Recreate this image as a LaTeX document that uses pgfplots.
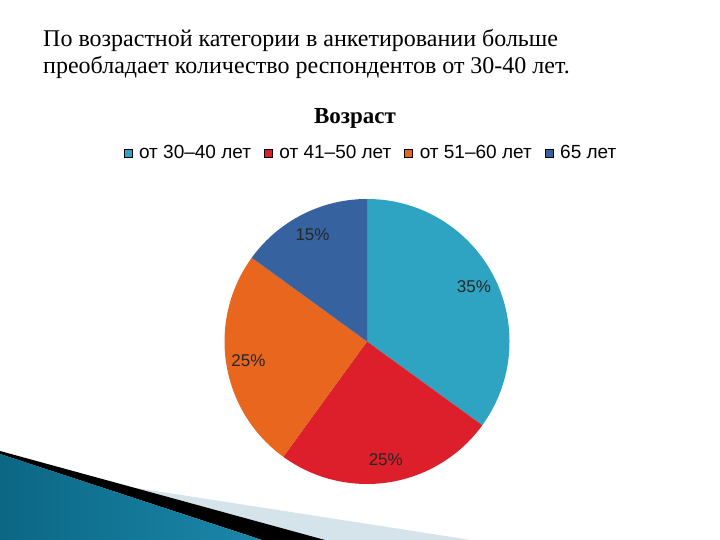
\documentclass[border=0pt]{standalone}
\usepackage{fontspec}
\setmainfont{Liberation Serif}
\newfontfamily\sansf{Liberation Sans}
\usepackage{pgfplots}
\usepackage{pgfplotstable}
\pgfplotsset{compat=1.18}
\definecolor{c0}{HTML}{2FA3C2}
\definecolor{c1}{HTML}{DC1F2B}
\definecolor{c2}{HTML}{E8661E}
\definecolor{c3}{HTML}{36629F}
\definecolor{tealdark}{HTML}{0B6784}
\definecolor{teallight}{HTML}{4DB4D6}
\definecolor{tealmid}{HTML}{1C87AA}
\definecolor{palestripe}{HTML}{D5E3EB}
\newcommand\lblfont{\sansf\fontsize{17}{17}\selectfont}

\pgfplotstableread{
age value
30-40 35
41-50 25
51-60 25
65 15
}\agetable

\begin{document}
\begin{tikzpicture}
\path[use as bounding box] (0,0) rectangle (720pt,540pt);
% decoration bottom left
\fill[palestripe] (130pt,53pt) -- (471pt,0pt) -- (325pt,0pt) -- cycle;
\fill[black] (0pt,89pt) -- (325pt,0pt) -- (262pt,0pt) -- (0pt,86pt) -- cycle;
\shade[left color=tealdark, middle color=teallight, right color=tealmid] (0pt,86pt) -- (262pt,0pt) -- (0pt,0pt) -- cycle;
% title text
\node[anchor=base west, inner sep=0pt, font=\fontsize{24}{28}\selectfont] at (43pt,493pt) {По возрастной категории в анкетировании больше};
\node[anchor=base west, inner sep=0pt, font=\fontsize{24}{28}\selectfont] at (43pt,466pt) {преобладает количество респондентов от 30-40 лет.};
\begin{axis}[
  x=1pt, y=1pt, xmin=0, xmax=720, ymin=0, ymax=540,
  axis lines=none, ticks=none, clip=false,
  title={\textbf{Возраст}},
  title style={at={(axis cs:355,410)}, anchor=base, font=\fontsize{23}{23}\selectfont, inner sep=0pt},
  legend columns=4,
  legend image code/.code={\fill[#1] (0pt,-4pt) rectangle (8pt,4pt);},
  legend style={at={(axis cs:370,387)}, anchor=center, draw=none, fill=none,
    font=\sansf\fontsize{19}{21}\selectfont, inner sep=0pt,
    nodes={inner sep=0pt},
    /tikz/every odd column/.append style={column sep=7pt},
    /tikz/every even column/.append style={column sep=13pt}},
]
\addlegendimage{fill=c0}
\addlegendentry{от 30–40 лет}
\addlegendimage{fill=c1}
\addlegendentry{от 41–50 лет}
\addlegendimage{fill=c2}
\addlegendentry{от 51–60 лет}
\addlegendimage{fill=c3}
\addlegendentry{65 лет}
\pgfmathsetmacro\startang{90}
\pgfplotsforeachungrouped \i in {0,1,2,3}{%
  \pgfplotstablegetelem{\i}{value}\of\agetable
  \let\val\pgfplotsretval
  \pgfmathsetmacro\endang{\startang-3.6*\val}%
  \pgfmathsetmacro\midang{(\startang+\endang)/2}%
  \edef\temp{\noexpand\fill[c\i] (axis cs:367,198.5) -- ([shift={(\startang:142.5pt)}]axis cs:367,198.5) arc[start angle=\startang, end angle=\endang, radius=142.5pt] -- cycle;
    \noexpand\node[font=\noexpand\lblfont, text=black!85] at ([shift={(\midang:120pt)}]axis cs:367,198.5) {\val\noexpand\%};}%
  \temp
  \let\startang\endang
}
\end{axis}
\end{tikzpicture}
\end{document}
